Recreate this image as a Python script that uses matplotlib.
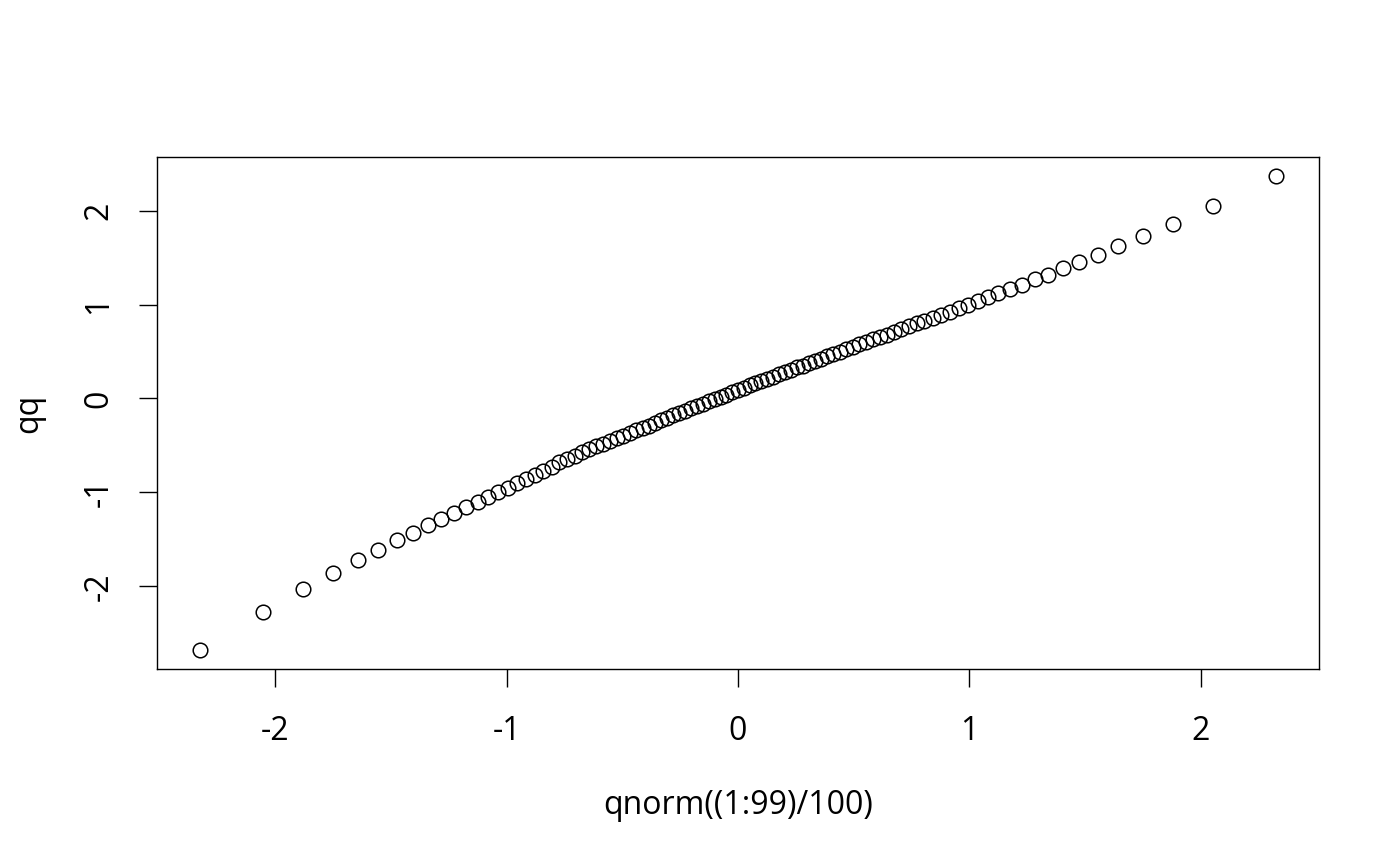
import matplotlib
matplotlib.use("Agg")
import matplotlib.pyplot as plt

plt.rcParams['font.family'] = ['Open Sans', 'DejaVu Sans']
plt.rcParams['axes.unicode_minus'] = False

# qnorm((1:99)/100)
x_vals = [-2.326, -2.054, -1.881, -1.751, -1.645, -1.555, -1.476, -1.405, -1.341, -1.282,
          -1.227, -1.175, -1.126, -1.080, -1.036, -0.995, -0.954, -0.915, -0.878, -0.842,
          -0.806, -0.772, -0.739, -0.706, -0.674, -0.643, -0.613, -0.583, -0.553, -0.524,
          -0.496, -0.468, -0.440, -0.412, -0.385, -0.358, -0.332, -0.305, -0.279, -0.253,
          -0.228, -0.202, -0.176, -0.151, -0.126, -0.100, -0.075, -0.050, -0.025, 0.000,
          0.025, 0.050, 0.075, 0.100, 0.126, 0.151, 0.176, 0.202, 0.228, 0.253,
          0.279, 0.305, 0.332, 0.358, 0.385, 0.412, 0.440, 0.468, 0.496, 0.524,
          0.553, 0.583, 0.613, 0.643, 0.674, 0.706, 0.739, 0.772, 0.806, 0.842,
          0.878, 0.915, 0.954, 0.995, 1.036, 1.080, 1.126, 1.175, 1.227, 1.282,
          1.341, 1.405, 1.476, 1.555, 1.645, 1.751, 1.881, 2.054, 2.326]

# qq
qq = [-2.68, -2.27, -2.03, -1.86, -1.72, -1.61, -1.51, -1.43, -1.35, -1.28,
      -1.22, -1.16, -1.10, -1.05, -1.00, -0.95, -0.90, -0.86, -0.82, -0.77,
      -0.73, -0.68, -0.64, -0.61, -0.57, -0.54, -0.51, -0.48, -0.45, -0.42,
      -0.40, -0.37, -0.34, -0.31, -0.29, -0.26, -0.23, -0.21, -0.18, -0.15,
      -0.13, -0.10, -0.08, -0.06, -0.03, -0.005, 0.015, 0.04, 0.065, 0.09,
      0.115, 0.14, 0.16, 0.185, 0.21, 0.23, 0.26, 0.28, 0.30, 0.33,
      0.35, 0.375, 0.40, 0.42, 0.45, 0.47, 0.50, 0.53, 0.55, 0.575,
      0.60, 0.63, 0.655, 0.68, 0.71, 0.74, 0.77, 0.80, 0.83, 0.86,
      0.89, 0.925, 0.96, 1.00, 1.04, 1.08, 1.12, 1.17, 1.21, 1.27,
      1.32, 1.39, 1.45, 1.53, 1.62, 1.73, 1.86, 2.05, 2.37]

x_ticks = [-2, -1, 0, 1, 2]
y_ticks = [-2, -1, 0, 1, 2]

fig = plt.figure(figsize=(14, 8.66), dpi=100)
ax = fig.add_axes([157 / 1400, 1 - 669 / 866, (1319 - 157) / 1400, (669 - 157) / 866])

ax.plot(x_vals, qq, linestyle='none', marker='o', markersize=10.5,
        markerfacecolor='none', markeredgecolor='black', markeredgewidth=1.1)
ax.margins(x=0.04, y=0.04)

ax.set_xticks(x_ticks)
ax.set_yticks(y_ticks)
ax.set_xticklabels([str(t) for t in x_ticks])
ax.set_yticklabels([str(t) for t in y_ticks], rotation=90, va='center')
ax.tick_params(axis='both', direction='out', length=13, width=1, labelsize=23)
ax.tick_params(axis='x', pad=20)
ax.tick_params(axis='y', pad=17)

for s in ax.spines.values():
    s.set_linewidth(1)

ax.set_xlabel("qnorm((1:99)/100)", fontsize=23, labelpad=30)
ax.set_ylabel("qq", fontsize=23, labelpad=27)

fig.savefig("out.png", dpi=100)
